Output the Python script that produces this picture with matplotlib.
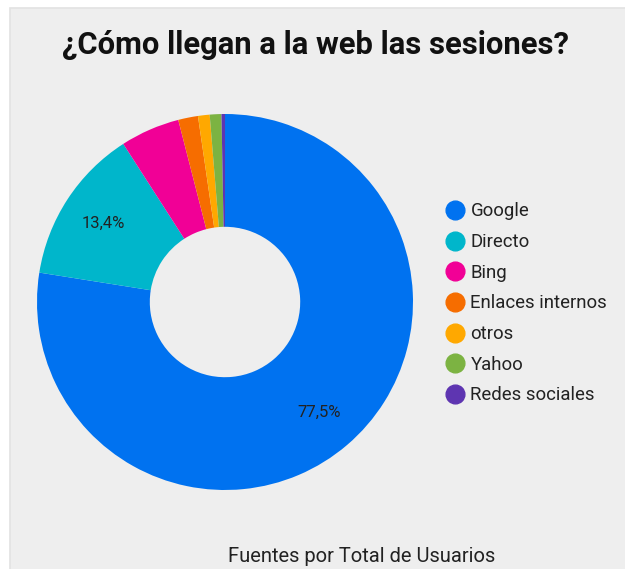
import numpy as np
import matplotlib.pyplot as plt
from matplotlib.patches import Rectangle
from matplotlib.lines import Line2D

plt.rcParams['font.family'] = ['Roboto', 'DejaVu Sans']

# datos
fuentes = ['Google', 'Directo', 'Bing', 'Enlaces internos', 'otros', 'Yahoo', 'Redes sociales']
usuarios = [77.5, 13.4, 5.1, 1.7, 1.0, 1.0, 0.3]
colores = ['#0072f0', '#00b6cb', '#f10096', '#f66d00', '#ffa800', '#7cb342', '#5e35b1']

W, H = 625, 569
fig = plt.figure(figsize=(W / 100, H / 100), dpi=100)
fig.patch.set_facecolor('white')

# panel gris
fig.patches.append(Rectangle((10 / W, -0.01), 1, 1 - 8 / H + 0.01, transform=fig.transFigure,
                             facecolor='#eeeeee', edgecolor='#e2e2e2', linewidth=1.2, zorder=-10))

# donut
cx, cy, r = 225, 302, 188
ax = fig.add_axes([(cx - r) / W, (H - cy - r) / H, 2 * r / W, 2 * r / H])
ax.set_zorder(1)
ax.set_facecolor('none')
wedges, _ = ax.pie(usuarios, colors=colores, startangle=90, counterclock=False,
                   radius=1, wedgeprops=dict(width=0.6, linewidth=0))
ax.set_xlim(-1, 1)
ax.set_ylim(-1, 1)
ax.set_aspect('equal')
ax.axis('off')

# etiquetas en los dos sectores grandes
acum = 0
total = sum(usuarios)
for v in usuarios:
    mid = 90 - (acum + v / 2) / total * 360
    acum += v
    if v / total < 0.1:
        continue
    ang = np.deg2rad(mid)
    ax.text(0.77 * np.cos(ang), 0.77 * np.sin(ang), ('%.1f%%' % v).replace('.', ','),
            ha='center', va='center', fontsize=12, color='#222222')

fig.text(315 / W, 1 - 45 / H, '¿Cómo llegan a la web las sesiones?', ha='center', va='center',
         fontsize=22.3, fontweight='bold', color='#111111')

# leyenda
handles = [Line2D([], [], marker='o', linestyle='none', markersize=13.5, markerfacecolor=c,
                  markeredgecolor=c) for c in colores]
fig.legend(handles, fuentes, loc='upper left', bbox_to_anchor=(436 / W, 1 - 195 / H),
           frameon=False, fontsize=13.4, labelspacing=0.68, handletextpad=0.25,
           handlelength=1.2, labelcolor='#222222', borderaxespad=0)

fig.text(362 / W, 1 - 556 / H, 'Fuentes por Total de Usuarios', ha='center', va='center',
         fontsize=14.5, color='#222222')

fig.savefig('out.png', dpi=100, facecolor=fig.get_facecolor())
